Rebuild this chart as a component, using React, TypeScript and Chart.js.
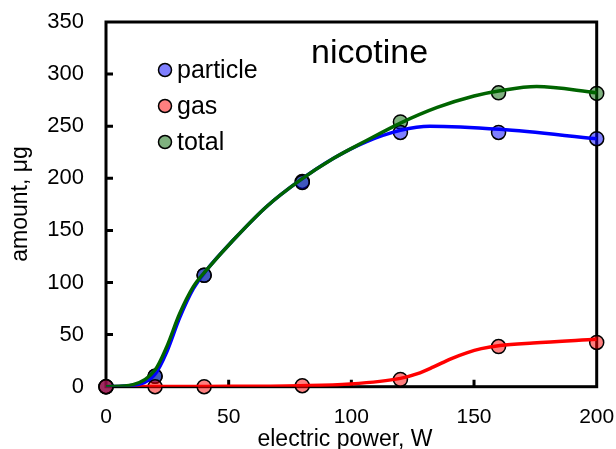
import React, { useEffect, useRef } from "react";
import { Chart, registerables } from "chart.js";

Chart.register(...registerables);

// measured points
const xValues = [0, 20, 40, 80, 120, 160, 200];
const particle = [0, 10, 107, 196, 244, 244, 238];
const gas = [0, 0, 0, 1, 7, 38.5, 42.5];
const total = [0, 10, 107, 197, 254, 282, 281.5];

// smoothed curves
const particleCurveX = [0, 11, 20, 24.7, 30, 35.6, 41, 52, 65.5, 79, 92.6, 106, 120, 132, 160.6, 200];
const particleCurveY = [0, 1.4, 12, 33, 66, 94, 112, 141, 173, 198, 219, 235, 246, 250, 247, 238];
const totalCurveX = [0, 11, 20, 24.7, 30, 35.6, 41, 52, 65.5, 79, 92.6, 106, 120, 135, 150, 160.6, 175.5, 200];
const totalCurveY = [0, 2, 16, 38, 70, 96, 112, 141, 173, 198, 219, 236, 253, 268, 279, 284, 288, 282];
const gasCurveX = [0, 40, 79, 99.5, 120, 127, 133.5, 140.3, 147, 153, 160.6, 174, 200];
const gasCurveY = [0, 0.3, 1, 2.6, 8, 12.5, 19, 26.5, 32.5, 36.5, 39.5, 42, 45.5];

const seriesNames = ["particle", "gas", "total"];
const xTicks = [0, 50, 100, 150, 200];
const yTicks = [0, 50, 100, 150, 200, 250, 300, 350];
const chartTitle = "nicotine";
const xTitle = "electric power, W";
const yTitle = "amount, μg";

const FONT = "'Liberation Sans', Arial, sans-serif";
const fills = ["rgba(0,0,255,0.5)", "rgba(255,0,0,0.5)", "rgba(0,100,0,0.5)"];
const lines = ["#0000ff", "#ff0000", "#006400"];

const pts = (xs: number[], ys: number[]) => xs.map((x, i) => ({ x, y: ys[i] }));

const decor = {
  id: "decor",
  beforeDatasetsDraw(chart: any) {
    const { ctx, chartArea: a, scales } = chart;
    const xs = scales.x, ys = scales.y;
    ctx.save();
    ctx.strokeStyle = "#000";
    ctx.lineWidth = 3;
    ctx.strokeRect(a.left, a.top, a.right - a.left, a.bottom - a.top);
    ctx.beginPath();
    yTicks.slice(1, -1).forEach((v) => {
      const py = ys.getPixelForValue(v);
      ctx.moveTo(a.left, py);
      ctx.lineTo(a.left + 7, py);
    });
    xTicks.slice(1, -1).forEach((v) => {
      const px = xs.getPixelForValue(v);
      ctx.moveTo(px, a.bottom);
      ctx.lineTo(px, a.bottom - 7);
    });
    ctx.stroke();
    ctx.restore();
  },
  afterDraw(chart: any) {
    const { ctx } = chart;
    ctx.save();
    ctx.fillStyle = "#000";
    ctx.textBaseline = "alphabetic";
    // chart title
    ctx.font = `34px ${FONT}`;
    ctx.textAlign = "left";
    ctx.fillText(chartTitle, 311, 63);
    // legend
    const rowsY = [70, 106, 142];
    const baseY = [78.3, 114, 149.5];
    ctx.font = `25px ${FONT}`;
    seriesNames.forEach((n, i) => {
      ctx.beginPath();
      ctx.arc(165, rowsY[i], 6.5, 0, Math.PI * 2);
      ctx.fillStyle = fills[i];
      ctx.fill();
      ctx.lineWidth = 1.5;
      ctx.strokeStyle = "#000";
      ctx.stroke();
      ctx.fillStyle = "#000";
      ctx.fillText(n, 177, baseY[i]);
    });
    // axis titles
    ctx.font = `23px ${FONT}`;
    ctx.textAlign = "center";
    ctx.fillText(xTitle, 345, 445.7);
    ctx.translate(27, 204);
    ctx.rotate(-Math.PI / 2);
    ctx.fillText(yTitle, 0, 0);
    ctx.restore();
  },
};

export default function App() {
  const ref = useRef<HTMLCanvasElement>(null);
  useEffect(() => {
    if (!ref.current) return;
    const pointDs = (i: number, data: number[], order: number) => ({
      label: seriesNames[i],
      data: pts(xValues, data),
      showLine: false,
      pointRadius: 7,
      pointBackgroundColor: fills[i],
      pointBorderColor: "#000",
      pointBorderWidth: 1.5,
      clip: false as any,
      order,
    });
    const curveDs = (i: number, xs: number[], ys: number[], order: number, w: number) => ({
      label: seriesNames[i] + " fit",
      data: pts(xs, ys),
      showLine: true,
      pointRadius: 0,
      borderColor: lines[i],
      borderWidth: w,
      cubicInterpolationMode: "monotone",
      fill: false,
      order,
    });
    const chart = new Chart(ref.current, {
      type: "scatter",
      data: {
        datasets: [
          curveDs(2, totalCurveX, totalCurveY, 0, 3.5),
          curveDs(0, particleCurveX, particleCurveY, 1, 3.5),
          curveDs(1, gasCurveX, gasCurveY, 2, 3.5),
          pointDs(1, gas, 3),
          pointDs(0, particle, 4),
          pointDs(2, total, 5),
        ] as any,
      },
      plugins: [decor],
      options: {
        animation: false,
        responsive: false,
        events: [],
        layout: { padding: { top: 22, right: 19.3, left: 0, bottom: 0 } },
        plugins: { legend: { display: false }, tooltip: { enabled: false }, title: { display: false } },
        scales: {
          x: {
            type: "linear",
            min: 0,
            max: 200,
            afterBuildTicks: (s: any) => { s.ticks = xTicks.map((v) => ({ value: v })); },
            ticks: { color: "#000", font: { size: 21, family: FONT }, padding: 10 },
            grid: { display: false },
            border: { display: false },
            afterFit: (s: any) => { s.height = 62.3; s.paddingLeft = 0; s.paddingRight = 0; s.paddingTop = 0; s.paddingBottom = 0; },
          },
          y: {
            type: "linear",
            min: 0,
            max: 350,
            afterBuildTicks: (s: any) => { s.ticks = yTicks.map((v) => ({ value: v })); },
            ticks: { color: "#000", font: { size: 22, family: FONT }, padding: 14 },
            grid: { display: false },
            border: { display: false },
            afterFit: (s: any) => { s.width = 106; s.paddingLeft = 0; s.paddingRight = 0; s.paddingTop = 0; s.paddingBottom = 0; },
          },
        },
      } as any,
    });
    return () => chart.destroy();
  }, []);
  return (
    <div style={{ position: "fixed", left: 0, top: 0, width: 616, height: 449, background: "#fff" }}>
      <canvas ref={ref} width={616} height={449} style={{ display: "block" }} />
    </div>
  );
}
